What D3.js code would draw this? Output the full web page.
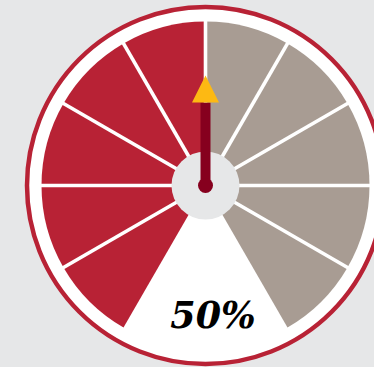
<!DOCTYPE html>
<html>
<head>
<meta charset="utf-8">
<script src="https://cdn.jsdelivr.net/npm/d3@7"></script>
<style>
  html, body { margin: 0; padding: 0; background: #e6e7e8; }
  svg { display: block; }
</style>
</head>
<body>
<svg id="gauge" width="374" height="367"></svg>
<script>
// Gauge data
const segmentEdges = [0, 10, 20, 30, 40, 50, 60, 70, 80, 90, 100];
const gaugeValue = 50;
const valueLabel = "50%";

const W = 374, H = 367;
const cx = 205.5, cy = 185.5;
const ringR = 178.5, segR = 164, hubR = 34;

const svg = d3.select("#gauge");
const g = svg.append("g").attr("transform", `translate(${cx},${cy})`);

// Value -> angle (radians, 0 = up, clockwise), 300° sweep leaving the bottom open
const angle = d3.scaleLinear().domain([0, 100]).range([-150 * Math.PI / 180, 150 * Math.PI / 180]);

// Outer dial face with ring
g.append("circle")
  .attr("r", ringR)
  .attr("fill", "#ffffff")
  .attr("stroke", "#b82235")
  .attr("stroke-width", 4.5);

// Segments: filled up to the value in red, remainder in grey
const segments = d3.pairs(segmentEdges).map(([a, b]) => ({ a, b }));
const arc = d3.arc().innerRadius(0).outerRadius(segR);
g.selectAll("path.seg")
  .data(segments)
  .join("path")
  .attr("class", "seg")
  .attr("d", d => arc({ startAngle: angle(d.a), endAngle: angle(d.b) }))
  .attr("fill", d => d.b <= gaugeValue ? "#b82235" : "#a89c93");

// White separators between segments
g.selectAll("line.sep")
  .data(segmentEdges.slice(1, -1))
  .join("line")
  .attr("class", "sep")
  .attr("x1", 0).attr("y1", 0)
  .attr("x2", d => Math.sin(angle(d)) * (segR + 3))
  .attr("y2", d => -Math.cos(angle(d)) * (segR + 3))
  .attr("stroke", "#ffffff")
  .attr("stroke-width", 3.6);

// Hub
g.append("circle").attr("r", hubR).attr("fill", "#e6e7e8");

// Needle
const a = angle(gaugeValue);
const shaftLen = 83, tipLen = 110, headHalf = 13.5;
const ux = Math.sin(a), uy = -Math.cos(a);
const px = Math.cos(a), py = Math.sin(a);
g.append("line")
  .attr("x1", 0).attr("y1", 0)
  .attr("x2", ux * shaftLen).attr("y2", uy * shaftLen)
  .attr("stroke", "#86001e")
  .attr("stroke-width", 10);
g.append("circle").attr("r", 7.5).attr("fill", "#86001e");
g.append("path")
  .attr("d", d3.line()([
    [ux * tipLen, uy * tipLen],
    [ux * shaftLen + px * headHalf, uy * shaftLen + py * headHalf],
    [ux * shaftLen - px * headHalf, uy * shaftLen - py * headHalf]
  ]) + "Z")
  .attr("fill", "#fdb913");

// Value label
g.append("text")
  .attr("x", 7.5)
  .attr("y", 142.5)
  .attr("text-anchor", "middle")
  .attr("font-family", "'DejaVu Serif', serif")
  .attr("font-weight", "bold")
  .attr("font-style", "italic")
  .attr("font-size", 36.5)
  .attr("fill", "#000000")
  .text(valueLabel);
</script>
</body>
</html>
